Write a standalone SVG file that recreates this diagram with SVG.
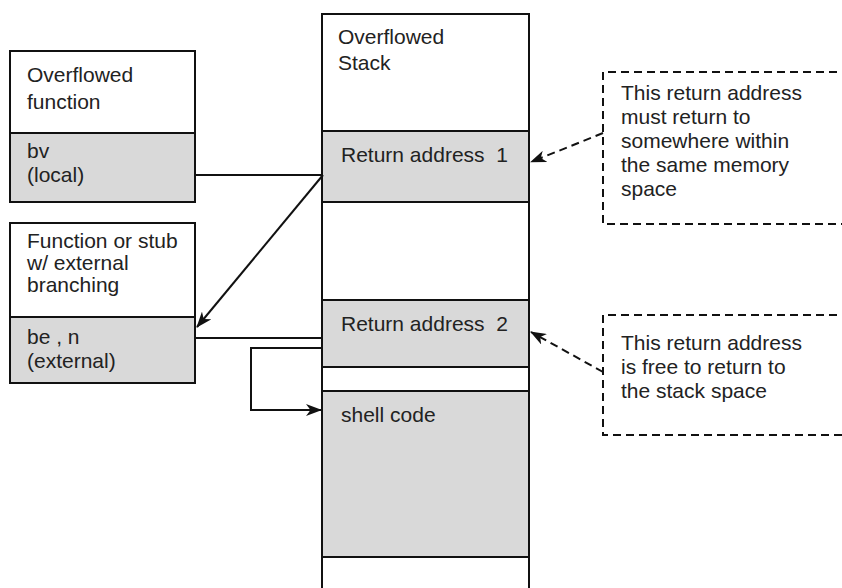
<svg xmlns="http://www.w3.org/2000/svg" width="842" height="588" viewBox="0 0 842 588">
  <style>
    .box { fill: #ffffff; stroke: #111111; stroke-width: 2; }
    .cell { fill: #d9d9d9; stroke: #111111; stroke-width: 2; }
    .lbl { font-family: "Liberation Sans", Arial, sans-serif; font-size: 21px; fill: #222222; white-space: pre; }
    .wire { fill: none; stroke: #111111; stroke-width: 2; }
    .dash { fill: none; stroke: #111111; stroke-width: 2; stroke-dasharray: 8 5; }
    .note { fill: none; stroke: #111111; stroke-width: 2; stroke-dasharray: 8 5; }
  </style>
  <defs>
    <marker id="head" viewBox="0 0 16 12" refX="15" refY="6" markerWidth="16" markerHeight="12" markerUnits="userSpaceOnUse" orient="auto">
      <path d="M0,0 L16,6 L0,12 L4.5,6 Z" fill="#111111" stroke="none"/>
    </marker>
  </defs>

  <rect width="842" height="588" fill="#ffffff"/>

  <!-- overflowed function frame -->
  <g id="overflowed-function">
    <rect class="box" x="10" y="51" width="185" height="82"/>
    <rect class="cell" x="10" y="133" width="185" height="69"/>
    <text class="lbl" x="27" y="82">Overflowed</text>
    <text class="lbl" x="27" y="109">function</text>
    <text class="lbl" x="27" y="158">bv</text>
    <text class="lbl" x="27" y="182">(local)</text>
  </g>

  <!-- function / stub with external branching -->
  <g id="external-stub">
    <rect class="box" x="10" y="223" width="185" height="94"/>
    <rect class="cell" x="10" y="317" width="185" height="66"/>
    <text class="lbl" x="27" y="248">Function or stub</text>
    <text class="lbl" x="27" y="270">w/ external</text>
    <text class="lbl" x="27" y="292">branching</text>
    <text class="lbl" x="27" y="344">be , n</text>
    <text class="lbl" x="27" y="368">(external)</text>
  </g>

  <!-- the overflowed stack column -->
  <g id="stack">
    <rect class="box" x="322" y="14" width="207" height="590"/>
    <rect class="cell" x="322" y="131" width="207" height="71"/>
    <rect class="cell" x="322" y="300" width="207" height="67"/>
    <rect class="cell" x="322" y="391" width="207" height="166"/>
    <text class="lbl" x="338" y="44">Overflowed</text>
    <text class="lbl" x="338" y="70">Stack</text>
    <text class="lbl" x="341" y="162">Return address  1</text>
    <text class="lbl" x="341" y="331">Return address  2</text>
    <text class="lbl" x="341" y="422">shell code</text>
  </g>

  <!-- annotation: return address 1 -->
  <g id="note-ra1">
    <path class="note" d="M850,72 H603 V224 H850"/>
    <text class="lbl" x="621" y="100">This return address</text>
    <text class="lbl" x="621" y="124">must return to</text>
    <text class="lbl" x="621" y="148">somewhere within</text>
    <text class="lbl" x="621" y="172">the same memory</text>
    <text class="lbl" x="621" y="196">space</text>
  </g>

  <!-- annotation: return address 2 -->
  <g id="note-ra2">
    <path class="note" d="M850,315 H603 V435 H850"/>
    <text class="lbl" x="621" y="350">This return address</text>
    <text class="lbl" x="621" y="374">is free to return to</text>
    <text class="lbl" x="621" y="398">the stack space</text>
  </g>

  <!-- connectors -->
  <g id="connectors">
    <path class="wire" d="M195,175 H323"/>
    <path class="wire" d="M323,175 L197,327" marker-end="url(#head)"/>
    <path class="wire" d="M195,338 H322"/>
    <path class="wire" d="M322,348 H251 V410 H321" marker-end="url(#head)"/>
    <path class="dash" d="M603,133 L531,162" marker-end="url(#head)"/>
    <path class="dash" d="M603,372 L531,332" marker-end="url(#head)"/>
  </g>
</svg>
